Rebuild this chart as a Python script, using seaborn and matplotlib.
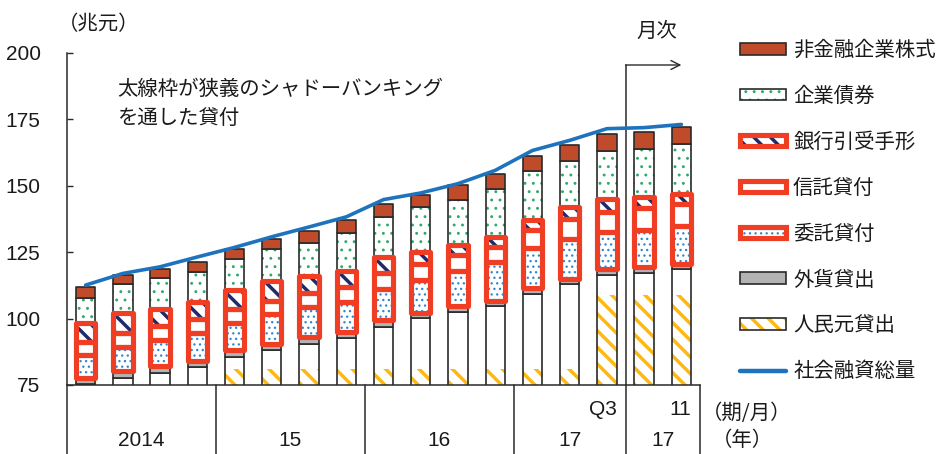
import os
import numpy as np
import matplotlib
matplotlib.use("Agg")
import matplotlib.pyplot as plt
from matplotlib.patches import Patch
from matplotlib.lines import Line2D
from matplotlib.legend_handler import HandlerTuple
from matplotlib import font_manager
from matplotlib.font_manager import FontProperties
import seaborn as sns

# ---- data (兆元) ----
periods = ["2014Q1", "2014Q2", "2014Q3", "2014Q4",
           "2015Q1", "2015Q2", "2015Q3", "2015Q4",
           "2016Q1", "2016Q2", "2016Q3", "2016Q4",
           "2017Q1", "2017Q2", "2017Q3", "2017-10", "2017-11"]
yuan_loans = [75.2, 77.7, 79.6, 81.7, 85.6, 88.2, 90.4, 92.6, 96.9,
              100.1, 102.6, 104.7, 109.2, 113.2, 116.4, 117.0, 118.6]
fx_loans = [2.3, 2.5, 2.7, 2.5, 2.4, 2.3, 2.7, 2.4, 2.7,
            1.9, 2.3, 2.1, 2.2, 1.8, 2.4, 2.5, 2.1]
entrusted_loans = [8.8, 9.2, 9.6, 10.2, 10.2, 11.2, 11.1, 11.3, 11.6,
                   12.5, 13.1, 14.6, 15.0, 14.9, 13.8, 14.0, 14.0]
trust_loans = [5.0, 5.0, 5.3, 5.3, 5.6, 5.0, 5.3, 5.7, 6.0,
               6.0, 6.0, 5.6, 6.9, 7.5, 7.6, 8.2, 8.6]
bank_acceptances = [7.1, 7.8, 6.3, 6.6, 6.9, 7.4, 6.5, 5.9, 5.9,
                    4.6, 3.6, 3.6, 4.0, 4.6, 4.8, 4.1, 3.6]
corporate_bonds = [9.5, 10.7, 11.6, 11.3, 11.7, 12.0, 12.6, 14.5, 15.2,
                   16.9, 16.9, 18.1, 18.2, 17.3, 18.0, 18.2, 18.7]
equity = [4.1, 3.5, 3.4, 3.8, 3.7, 3.8, 4.4, 4.6, 4.7,
          4.4, 5.7, 5.9, 5.7, 5.9, 6.6, 6.2, 6.5]
total_financing = [112.6, 117.0, 119.5, 123.2, 126.8, 130.8, 134.5, 138.3, 144.8,
                   147.3, 150.8, 155.8, 163.3, 167.1, 171.5, 171.9, 173.1]

year_labels = ["2014", "15", "16", "17", "17"]
year_group_sizes = [4, 4, 4, 3, 2]
period_tags = ["Q3", "11"]

series_names = ["非金融企業株式", "企業債券", "銀行引受手形", "信託貸付",
                "委託貸付", "外貨貸出", "人民元貸出", "社会融資総量"]

# ---- style ----
sns.set_style("white")
JP_FONT = ["Noto Sans CJK JP", "DejaVu Sans"]
plt.rcParams["font.family"] = JP_FONT
plt.rcParams["hatch.linewidth"] = 0.9
STRIPE_LW = 2.5
STRIPES = "\\\\"


def number_font(size):
    """Narrow sans for the numerals when one is installed."""
    wanted = ["LiberationSansNarrow-Regular.ttf", "LiberationSansNarrow.ttf"]
    found = {os.path.basename(p): p for p in font_manager.findSystemFonts()}
    for name in wanted:
        if name in found:
            return FontProperties(fname=found[name], size=size)
    return FontProperties(family="Liberation Sans", size=size)


NUM_FP = number_font(15)

EDGE = "#2a2a2a"
RED = "#EF3E23"
BROWN = "#BF4B2A"
GRAY = "#B3B3B3"
GREEN = "#2EAA6A"
DOTBLUE = "#2C86D2"
NAVY = "#1F2A6B"
ORANGE = "#FDB813"
LINEBLUE = "#1E73BE"
TXT = "#1a1a1a"

W_PX, H_PX = 941, 454
fig = plt.figure(figsize=(W_PX / 100, H_PX / 100), dpi=100)
ax = fig.add_axes([67 / W_PX, 69 / H_PX, 633 / W_PX, 332 / H_PX])

n = len(periods)
pos = np.arange(n)
BAR_W = 0.52

yuan = np.array(yuan_loans)
b_fx = yuan
b_ent = b_fx + np.array(fx_loans)
b_tr = b_ent + np.array(entrusted_loans)
b_ba = b_tr + np.array(trust_loans)
b_bond = b_ba + np.array(bank_acceptances)
b_eq = b_bond + np.array(corporate_bonds)

# the stripe texture of the yuan-loan bars only covers their lower part
stripe_top = np.array([75.0] * 4 + [81.0] * 10 + [109.0] * 3)


def layer(values, bottom, facecolor, edgecolor, lw, hatch=None):
    before = len(ax.patches)
    hatch_lw = STRIPE_LW if (hatch and "\\" in hatch) else 0.9
    with plt.rc_context({"hatch.linewidth": hatch_lw}):
        sns.barplot(x=pos, y=values, bottom=bottom, width=BAR_W, errorbar=None,
                    saturation=1, color="white", facecolor=facecolor,
                    edgecolor=edgecolor, linewidth=lw, hatch=hatch, ax=ax)
    new = ax.patches[before:]
    for p in new:
        p.set_joinstyle("round")
    return new


OUT_LW = 1.2
RED_LW = 3.7

# yuan loans: fill, stripe texture, outline
layer(yuan, 0, "white", "none", 0)
layer(stripe_top - 75.0, 75.0, "none", ORANGE, 0, hatch=STRIPES)
layer(yuan, 0, "none", EDGE, OUT_LW)
# foreign-currency loans
layer(fx_loans, b_fx, GRAY, EDGE, OUT_LW)
# shadow-banking fills
layer(entrusted_loans, b_ent, "white", DOTBLUE, 0, hatch="...")
layer(trust_loans, b_tr, "white", "none", 0)
layer(bank_acceptances, b_ba, "white", NAVY, 0, hatch=STRIPES)
# corporate bonds
layer(corporate_bonds, b_bond, "white", GREEN, 0, hatch="..")
layer(corporate_bonds, b_bond, "none", EDGE, OUT_LW)
# equity
layer(equity, b_eq, BROWN, EDGE, OUT_LW)
# thick red frames around the narrowly defined shadow banking
layer(entrusted_loans, b_ent, "none", RED, RED_LW)
layer(trust_loans, b_tr, "none", RED, RED_LW)
layer(bank_acceptances, b_ba, "none", RED, RED_LW)

# total social financing
sns.lineplot(x=pos, y=total_financing, color=LINEBLUE, linewidth=2.6,
             sort=False, ax=ax, zorder=5)

# ---- axes ----
ax.set_xlim(-0.5, n - 0.5)
ax.set_ylim(75, 200)
ax.set_xticks([])
ax.set_xlabel("")
ax.set_ylabel("")
ax.set_yticks(np.arange(75, 201, 25))
ax.tick_params(axis="y", direction="in", length=4, width=1.0, color=EDGE,
               pad=19, labelcolor=TXT, left=True)
for lbl in ax.get_yticklabels():
    lbl.set_fontproperties(NUM_FP)
for s in ("top", "right"):
    ax.spines[s].set_visible(False)
for s in ("left", "bottom"):
    ax.spines[s].set_color(EDGE)
    ax.spines[s].set_linewidth(1.1)

# category table below the axis
xt = ax.get_xaxis_transform()
table_bottom = -69 / 332
arrow_y = (385 - 65) / 332
edges = np.concatenate([[0], np.cumsum(year_group_sizes)]) - 0.5
for i, e in enumerate(edges):
    top = arrow_y if i == len(year_group_sizes) - 1 else 0
    ax.add_line(Line2D([e, e], [table_bottom, top], transform=xt, color=EDGE,
                       lw=1.1, clip_on=False))
for lab, lo, hi in zip(year_labels, edges[:-1], edges[1:]):
    ax.text((lo + hi) / 2, -0.166, lab, transform=xt, ha="center", va="center",
            color=TXT, fontproperties=NUM_FP)
quarter_end = sum(year_group_sizes[:4]) - 1
ax.text(quarter_end + 0.27, -0.075, period_tags[0], transform=xt, ha="right",
        va="center", color=TXT, fontproperties=NUM_FP)
ax.text(n - 1 + 0.27, -0.075, period_tags[1], transform=xt, ha="right",
        va="center", color=TXT, fontproperties=NUM_FP)

# monthly arrow
ax.annotate("", xy=(n - 1.0, arrow_y), xytext=(edges[-2], arrow_y),
            xycoords=xt, textcoords=xt,
            arrowprops=dict(arrowstyle="->", lw=1.0, color=EDGE, mutation_scale=16,
                            shrinkA=0, shrinkB=0))
ax.text(edges[-2] + 0.85, (385 - 31) / 332, "月次", transform=xt, ha="center",
        va="center", fontsize=14.7, color=TXT)


# figure texts
def ftext(x, y, s, **kw):
    fig.text(x / W_PX, 1 - y / H_PX, s, **kw)


ftext(58, 25, "（兆元）", fontsize=14.7, color=TXT, va="center", ha="left")
ftext(117, 89, "太線枠が狭義のシャドーバンキング", fontsize=14.7, color=TXT,
      va="center", ha="left")
ftext(117, 118, "を通した貸付", fontsize=14.7, color=TXT, va="center", ha="left")
ftext(702, 413, "（期/月）", fontsize=14.7, color=TXT, va="center", ha="left")
ftext(712, 440, "（年）", fontsize=14.7, color=TXT, va="center", ha="left")

# ---- legend ----
handles = [
    Patch(facecolor=BROWN, edgecolor=EDGE, linewidth=OUT_LW),
    (Patch(facecolor="white", edgecolor=GREEN, linewidth=0, hatch=".."),
     Patch(facecolor="none", edgecolor=EDGE, linewidth=OUT_LW)),
    (Patch(facecolor="white", edgecolor=NAVY, linewidth=0, hatch=STRIPES),
     Patch(facecolor="none", edgecolor=RED, linewidth=RED_LW)),
    Patch(facecolor="white", edgecolor=RED, linewidth=RED_LW),
    (Patch(facecolor="white", edgecolor=DOTBLUE, linewidth=0, hatch="..."),
     Patch(facecolor="none", edgecolor=RED, linewidth=RED_LW)),
    Patch(facecolor=GRAY, edgecolor=EDGE, linewidth=OUT_LW),
    (Patch(facecolor="white", edgecolor=ORANGE, linewidth=0, hatch=STRIPES),
     Patch(facecolor="none", edgecolor=EDGE, linewidth=OUT_LW)),
    Line2D([], [], color=LINEBLUE, linewidth=3.2),
]
leg = fig.legend(handles, series_names, loc="upper left",
                 bbox_to_anchor=(740 / W_PX, 1 - 40 / H_PX),
                 frameon=False, fontsize=14.7, handlelength=2.25, handleheight=0.5,
                 handletextpad=0.35, labelspacing=1.22, borderpad=0, borderaxespad=0,
                 handler_map={tuple: HandlerTuple(ndivide=1, pad=0)})
for t in leg.get_texts():
    t.set_color(TXT)

# legend swatches get the same heavy stroke for their diagonal stripes
for p in leg.findobj(matplotlib.patches.Patch):
    h = p.get_hatch()
    if h and "\\" in h and hasattr(p, "_hatch_linewidth"):
        p._hatch_linewidth = STRIPE_LW

fig.savefig("out.png", dpi=100)
